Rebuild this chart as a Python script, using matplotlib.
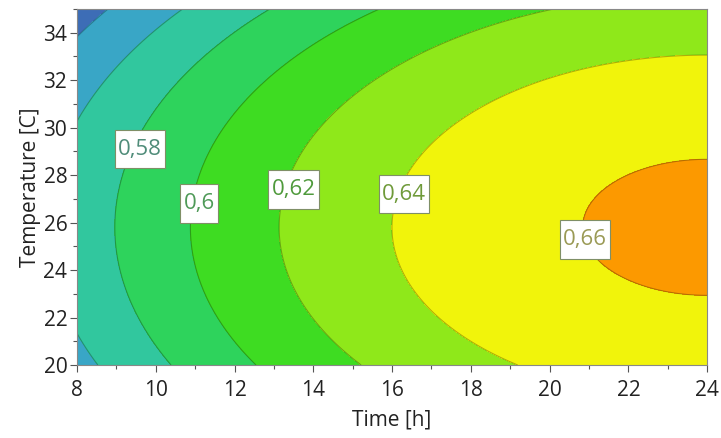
import numpy as np
import matplotlib
matplotlib.use("Agg")
import matplotlib.pyplot as plt
from matplotlib.ticker import MultipleLocator
from matplotlib.path import Path

# Response-surface model: z = b0 + b_t*t + b_T*T + b_tt*t^2 + b_TT*T^2
b0 = 0.15104
b_t = 0.01776
b_T = 0.02322
b_tt = -0.00037
b_TT = -0.00045

time_range = [8, 24]
temp_range = [20, 35]
levels = [0.50, 0.54, 0.56, 0.58, 0.60, 0.62, 0.64, 0.66, 0.70]
fill_colors = ["#3d6db6", "#39a6c6", "#31c79e", "#2ed35c", "#3edc22",
               "#8fe81a", "#f1f40b", "#fc9900"]
label_texts = ["0,58", "0,6", "0,62", "0,64", "0,66"]
label_pos = [(9.6, 29.1), (11.1, 26.8), (13.5, 27.4), (16.3, 27.2), (20.9, 25.3)]
label_colors = ["#4f8c79", "#4f9a58", "#4f9a3c", "#6f9a3a", "#9a9a55"]
xticks = [8, 10, 12, 14, 16, 18, 20, 22, 24]
yticks = [20, 22, 24, 26, 28, 30, 32, 34]

t = np.linspace(time_range[0], time_range[1], 400)
T = np.linspace(temp_range[0], temp_range[1], 400)
TT, TempT = np.meshgrid(t, T)
Z = b0 + b_t * TT + b_T * TempT + b_tt * TT ** 2 + b_TT * TempT ** 2


def tall_box(x0, y0, width, height, mutation_size):
    px = 0.15 * mutation_size
    py = 0.40 * mutation_size
    xa, xb = x0 - px, x0 + width + px
    ya, yb = y0 - py, y0 + height + py
    return Path([(xa, ya), (xb, ya), (xb, yb), (xa, yb), (xa, ya)], closed=True)


plt.rcParams['font.family'] = ['Open Sans', 'DejaVu Sans']
fig = plt.figure(figsize=(7.21, 4.38), dpi=100)
ax = fig.add_axes([0.1068, 0.1667, 0.874, 0.8128])

ax.contourf(TT, TempT, Z, levels=levels, colors=fill_colors)
ax.contour(TT, TempT, Z, levels=levels[1:-1], colors=[(0, 0, 0, 0.28)], linewidths=0.8)

for txt, pos, col in zip(label_texts, label_pos, label_colors):
    ax.text(pos[0], pos[1], txt, ha='center', va='center', fontsize=16, color=col,
            bbox=dict(boxstyle=tall_box, facecolor='white', edgecolor='#7f8f66',
                      linewidth=0.8))

ax.set_xlim(time_range)
ax.set_ylim(temp_range)
ax.set_xticks(xticks)
ax.set_yticks(yticks)
ax.xaxis.set_minor_locator(MultipleLocator(1))
ax.yaxis.set_minor_locator(MultipleLocator(1))
ax.tick_params(axis='both', which='major', labelsize=15, length=5, width=0.8,
               color='#555555', labelcolor='#222222')
ax.tick_params(axis='x', which='major', pad=6)
ax.tick_params(axis='y', which='major', pad=2)
ax.tick_params(axis='both', which='minor', length=3, width=0.8, color='#555555')
for s in ax.spines.values():
    s.set_color('#888888')
    s.set_linewidth(0.8)
ax.set_xlabel('Time [h]', fontsize=15, color='#222222', labelpad=6)
ax.set_ylabel('Temperature [C]', fontsize=15, color='#222222', labelpad=2)

fig.savefig('out.png', dpi=100)
